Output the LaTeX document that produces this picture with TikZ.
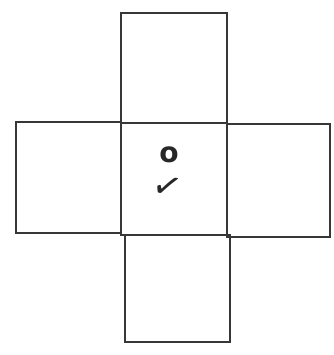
\documentclass[tikz,border=0pt]{standalone}
\usepackage{fontspec}
\newfontfamily\symfont{DejaVu Sans}
\usetikzlibrary{positioning}
\definecolor{NetLine}{RGB}{55,55,55}
\tikzset{
  net/face/.style={
    draw=NetLine,
    line width=1.3pt,
    inner sep=0pt,
    fill=none
  },
  net/mark/.style={
    text=NetLine!70!black,
    inner sep=0pt,
    font=\symfont\bfseries\fontsize{24}{24}\selectfont
  }
}
\begin{document}
\begin{tikzpicture}[x=0.3mm,y=-0.3mm]
  \useasboundingbox (0,0) rectangle (334,355);
  % the five faces of the cross
  \node[net/face,minimum width=31.8mm,minimum height=33.6mm] (middle) at (174,179) {};
  \node[net/face,minimum width=31.8mm,minimum height=33mm] (top) at (174,68) {};
  \node[net/face,minimum width=31.5mm,minimum height=33.3mm] (left) at (68.5,177.5) {};
  \node[net/face,minimum width=30.9mm,minimum height=33.9mm] (right) at (278.5,180.5) {};
  \node[net/face,minimum width=31.5mm,minimum height=32.1mm] (bottom) at (177.5,288.5) {};
  % marks on the middle face
  \node[net/mark] (ring) at (169,155) {o};
  \node[net/mark,font=\symfont\bfseries\fontsize{30}{30}\selectfont,rotate=-14] (tick) at (167,187) {✓};
\end{tikzpicture}
\end{document}
